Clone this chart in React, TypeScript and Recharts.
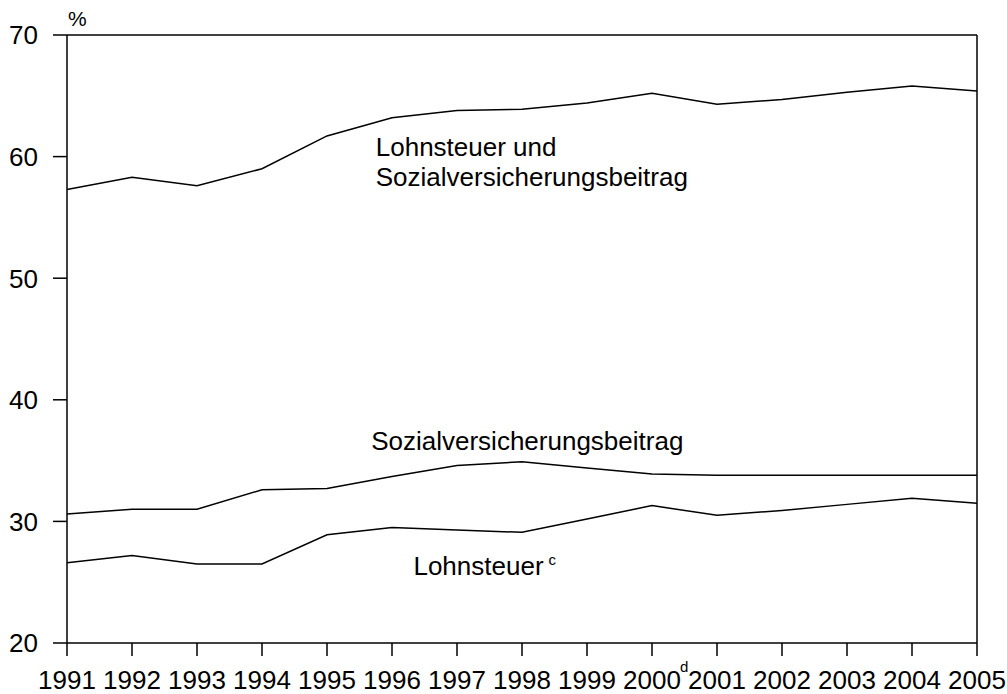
import { LineChart, Line, XAxis, YAxis, ReferenceLine, ReferenceDot } from "recharts";

const years = [1991, 1992, 1993, 1994, 1995, 1996, 1997, 1998, 1999, 2000, 2001, 2002, 2003, 2004, 2005];
const gesamt = [57.3, 58.3, 57.6, 59.0, 61.7, 63.2, 63.8, 63.9, 64.4, 65.2, 64.3, 64.7, 65.3, 65.8, 65.4];
const sozial = [30.6, 31.0, 31.0, 32.6, 32.7, 33.7, 34.6, 34.9, 34.4, 33.9, 33.8, 33.8, 33.8, 33.8, 33.8];
const lohn = [26.6, 27.2, 26.5, 26.5, 28.9, 29.5, 29.3, 29.1, 30.2, 31.3, 30.5, 30.9, 31.4, 31.9, 31.5];
const yTicks = [20, 30, 40, 50, 60, 70];

const data = years.map((year, i) => ({ year, gesamt: gesamt[i], sozial: sozial[i], lohn: lohn[i] }));

const FONT = "'Liberation Sans', Arial, sans-serif";
const INK = "#000";
const SIZE = 26;

function XTick({ x, y, payload }: any) {
  return (
    <g>
      <text x={x} y={y} dy="0.71em" textAnchor="middle" fontSize={SIZE} fontFamily={FONT} fill={INK}>
        {payload.value}
      </text>
      {payload.value === 2000 && (
        <text x={x + 28} y={y + 1} fontSize={15} fontFamily={FONT} fill={INK}>
          d
        </text>
      )}
    </g>
  );
}

function YTick({ x, y, payload }: any) {
  return (
    <text x={x} y={y} dy="0.36em" textAnchor="end" fontSize={SIZE} fontFamily={FONT} fill={INK}>
      {payload.value}
    </text>
  );
}

const note = (lines: string[], sup?: string) => (p: any) => (
  <text x={p.cx} y={p.cy} fontSize={SIZE} fontFamily={FONT} fill={INK}>
    {lines.map((l, i) => (
      <tspan key={i} x={p.cx} dy={i === 0 ? 0 : 30}>
        {l}
      </tspan>
    ))}
    {sup && (
      <tspan dx={5} dy={-10} fontSize={15}>
        {sup}
      </tspan>
    )}
  </text>
);

export default function App() {
  return (
    <div style={{ position: "absolute", left: 0, top: 0, background: "#fff" }}>
      <LineChart width={1007} height={694} data={data} margin={{ top: 35, right: 30, bottom: 0, left: 0 }}>
        <XAxis
          dataKey="year"
          type="number"
          domain={[1991, 2005]}
          ticks={years}
          interval={0}
          tickSize={13}
          tickMargin={15}
          height={51}
          stroke={INK}
          strokeWidth={1.5}
          tick={<XTick />}
        />
        <YAxis
          domain={[20, 70]}
          ticks={yTicks}
          interval={0}
          tickSize={14}
          tickMargin={15}
          width={67}
          stroke={INK}
          strokeWidth={1.5}
          tick={<YTick />}
        />
        <ReferenceLine y={70} stroke={INK} strokeWidth={1.5} />
        <ReferenceLine x={2005} stroke={INK} strokeWidth={1.5} />
        <Line dataKey="gesamt" stroke={INK} strokeWidth={1.5} dot={false} isAnimationActive={false} />
        <Line dataKey="sozial" stroke={INK} strokeWidth={1.5} dot={false} isAnimationActive={false} />
        <Line dataKey="lohn" stroke={INK} strokeWidth={1.5} dot={false} isAnimationActive={false} />
        <ReferenceDot x={1991} y={70} r={0} shape={(p: any) => (
          <text x={p.cx + 1} y={p.cy - 9} fontSize={21} fontFamily={FONT} fill={INK}>%</text>
        )} />
        <ReferenceDot x={1995.75} y={60.05} r={0} shape={note(["Lohnsteuer und", "Sozialversicherungsbeitrag"])} />
        <ReferenceDot x={1995.68} y={35.87} r={0} shape={note(["Sozialversicherungsbeitrag"])} />
        <ReferenceDot x={1996.33} y={25.59} r={0} shape={note(["Lohnsteuer"], "c")} />
      </LineChart>
    </div>
  );
}
